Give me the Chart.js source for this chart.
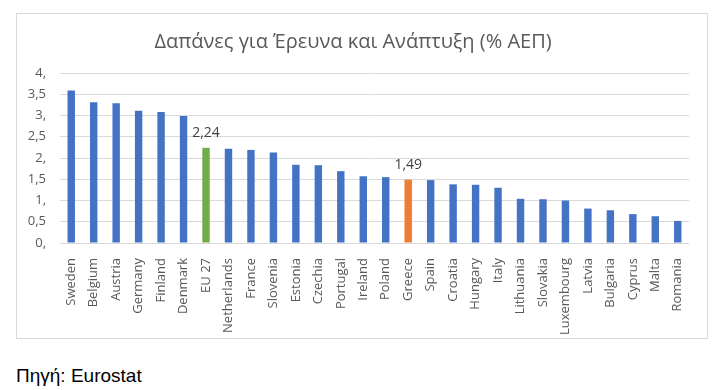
<!DOCTYPE html>
<html>
<head>
<meta charset="utf-8">
<script src="https://cdn.jsdelivr.net/npm/chart.js@4"></script>
<style>
  body { margin: 0; background: #fff; width: 727px; height: 390px; position: relative; overflow: hidden; }
  #box { position: absolute; left: 16px; top: 13px; width: 690px; height: 324px; border: 1px solid #d9d9d9; }
  #source { position: absolute; left: 16px; top: 365px; font: 19px "Liberation Sans", Arial, sans-serif; color: #000; }
</style>
</head>
<body>
<div id="box"><canvas id="chart" width="690" height="324"></canvas></div>
<div id="source">Πηγή: Eurostat</div>
<script>
'use strict';

// Data
const countries = ['Sweden', 'Belgium', 'Austria', 'Germany', 'Finland', 'Denmark', 'EU 27', 'Netherlands',
  'France', 'Slovenia', 'Estonia', 'Czechia', 'Portugal', 'Ireland', 'Poland', 'Greece', 'Spain', 'Croatia',
  'Hungary', 'Italy', 'Lithuania', 'Slovakia', 'Luxembourg', 'Latvia', 'Bulgaria', 'Cyprus', 'Malta', 'Romania'];
const rdSpending = [3.59, 3.31, 3.29, 3.11, 3.08, 2.99, 2.24, 2.22, 2.19, 2.13, 1.84, 1.83, 1.69, 1.57, 1.55,
  1.49, 1.48, 1.38, 1.37, 1.30, 1.04, 1.03, 1.00, 0.81, 0.77, 0.68, 0.63, 0.52];
const yTicks = [0, 0.5, 1, 1.5, 2, 2.5, 3, 3.5, 4];
const labelledBars = ['EU 27', 'Greece'];

const BLUE = '#4472C4', GREEN = '#70AD47', ORANGE = '#ED7D31';
const TEXT = '#595959';

const barColors = countries.map(c => c === 'EU 27' ? GREEN : c === 'Greece' ? ORANGE : BLUE);
const fmt = v => Number.isInteger(v) ? v + ',' : String(v).replace('.', ',');

// draws "2,24" / "1,49" above the highlighted bars
const valueLabels = {
  id: 'valueLabels',
  afterDatasetsDraw(chart) {
    const ctx = chart.ctx;
    const meta = chart.getDatasetMeta(0);
    ctx.save();
    ctx.font = '14px "Open Sans", sans-serif';
    ctx.fillStyle = '#404040';
    ctx.textAlign = 'center';
    ctx.textBaseline = 'bottom';
    labelledBars.forEach(name => {
      const i = countries.indexOf(name);
      const bar = meta.data[i];
      ctx.fillText(rdSpending[i].toFixed(2).replace('.', ','), bar.x, bar.y - 8);
    });
    ctx.restore();
  }
};

new Chart(document.getElementById('chart'), {
  type: 'bar',
  data: {
    labels: countries,
    datasets: [{
      data: rdSpending,
      backgroundColor: barColors,
      barPercentage: 0.33,
      categoryPercentage: 1,
    }],
  },
  options: {
    responsive: false,
    animation: false,
    layout: { padding: { left: 0, right: 18, top: 0, bottom: 0 } },
    plugins: {
      legend: { display: false },
      tooltip: { enabled: false },
      title: {
        display: true,
        text: 'Δαπάνες για Έρευνα και Ανάπτυξη (% ΑΕΠ)',
        color: TEXT,
        font: { family: '"Open Sans", sans-serif', size: 20, weight: 'normal' },
        padding: { top: 16, bottom: 19 },
      },
    },
    scales: {
      x: {
        grid: { display: false },
        border: { display: false },
        ticks: {
          color: TEXT,
          font: { family: '"Open Sans", sans-serif', size: 13 },
          minRotation: 90,
          maxRotation: 90,
          autoSkip: false,
          padding: 7,
        },
        afterFit: s => { s.height = 95; },
      },
      y: {
        min: 0,
        max: 4,
        afterBuildTicks: s => { s.ticks = yTicks.map(v => ({ value: v })); },
        grid: { color: '#d9d9d9', drawTicks: false },
        border: { display: false },
        ticks: {
          color: TEXT,
          font: { family: '"Open Sans", sans-serif', size: 13 },
          padding: 14,
          callback: v => fmt(v),
        },
        afterFit: s => { s.width = 43; },
      },
    },
  },
  plugins: [valueLabels],
});
</script>
</body>
</html>
